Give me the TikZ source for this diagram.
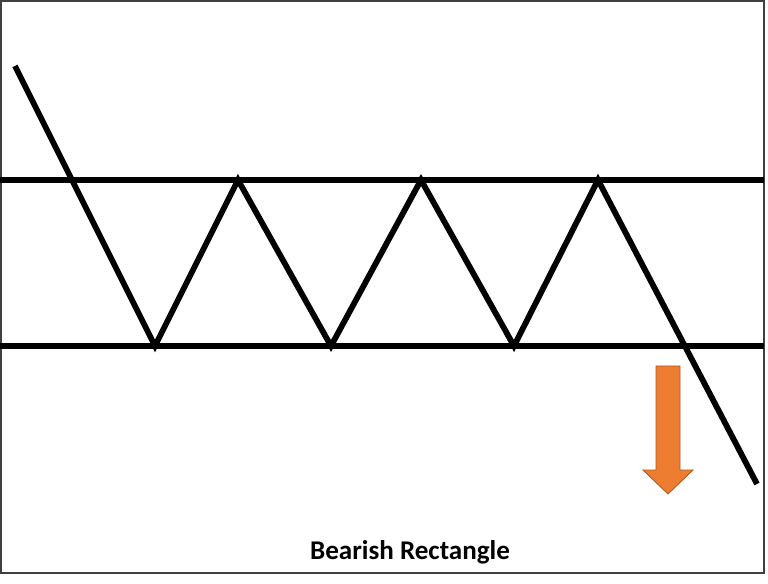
\documentclass[tikz,border=0pt]{standalone}
\usepackage{fontspec}
\setmainfont{Carlito}
\usepackage{tikz}
\usetikzlibrary{arrows}
\definecolor{arroworange}{HTML}{ED7D31}
\definecolor{arrowedge}{HTML}{AE5A21}

\begin{document}
\begin{tikzpicture}[x=0.02cm, y=-0.02cm]
\tikzset{frame/.style={draw=black!75, line width=0.8pt}}
\tikzset{level/.style={draw, line width=3.3pt}}
\tikzset{price/.style={draw, line width=3.3pt, line join=miter}}
\tikzset{breakout/.style={fill=arroworange, draw=arrowedge, line width=0.5pt}}
\tikzset{title/.style={font=\bfseries\fontsize{15.4}{18}\selectfont, anchor=base}}
\useasboundingbox (0,0) rectangle (768,584);
\draw[frame] (1,1) rectangle (764,573);
% support and resistance
\coordinate (rl) at (0,180);
\coordinate (rr) at (764,180);
\coordinate (sl) at (0,346);
\coordinate (sr) at (764,346);
\draw[level] (rl) -- (rr);
\draw[level] (sl) -- (sr);
% price path
\coordinate (p0) at (15,66);
\coordinate (p1) at (155,346);
\coordinate (p2) at (238,180);
\coordinate (p3) at (331,346);
\coordinate (p4) at (421,180);
\coordinate (p5) at (514,346);
\coordinate (p6) at (598,180);
\coordinate (p7) at (757,484);
\draw[price] (p0) -- (p1) -- (p2) -- (p3) -- (p4) -- (p5) -- (p6) -- (p7);
% breakout arrow
\draw[breakout] (656,366) -- (680,366) -- (680,470) -- (693,470) -- (668,494)
  -- (643,470) -- (656,470) -- cycle;
\node[title] (caption) at (410,559) {Bearish Rectangle};
\end{tikzpicture}
\end{document}
